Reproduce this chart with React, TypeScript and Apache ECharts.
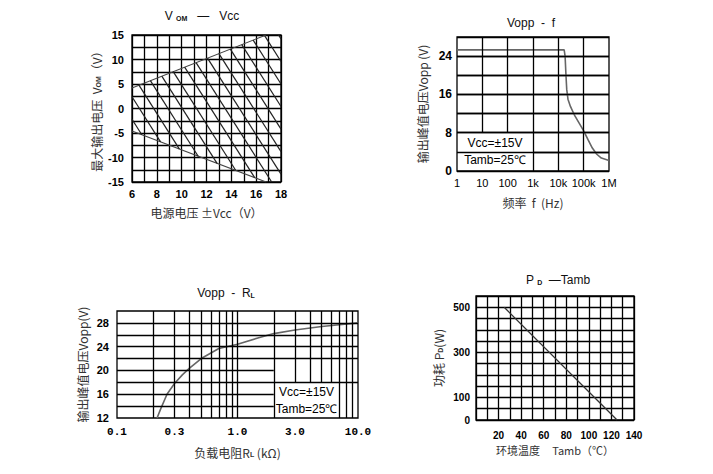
import React, { useEffect, useRef } from 'react';
import * as echarts from 'echarts';

// ---------- Chart 1: V_OM vs Vcc ----------
const vccTicks = [6, 8, 10, 12, 14, 16, 18];
const vomTicks = [-15, -10, -5, 0, 5, 10, 15];
const vomUpper = [[6, 4.2], [16.8, 15]];
const vomLower = [[6, -4.6], [16.8, -15]];
// hatch segments: [x1, y1, x2, y2]
const vomHatch = [
  [6, -2.2, 6.79, -5.36],
  [6, 2.4, 8.3, -6.82],
  [6.56, 4.76, 9.82, -8.28],
  [7.48, 5.68, 11.33, -9.74],
  [8.4, 6.6, 12.85, -11.2],
  [9.32, 7.52, 14.36, -12.66],
  [10.24, 8.44, 15.88, -14.11],
  [11.16, 9.36, 17.25, -15],
  [12.08, 10.28, 18, -13.4],
  [13.0, 11.2, 18, -8.8],
  [13.92, 12.12, 18, -4.2],
  [14.84, 13.04, 18, 0.4],
  [15.76, 13.96, 18, 5.0],
  [16.68, 14.88, 18, 9.6],
  [17.8, 15, 18, 14.2],
];

// ---------- Chart 2: Vopp vs f ----------
const freqTicks = [1, 10, 100, 1000, 10000, 100000, 1000000];
const freqTickLabels = ['1', '10', '100', '1k', '10k', '100k', '1M'];
const freqValues = [1, 10, 100, 1000, 10000, 17000, 18500, 20000, 21500, 24000, 30000, 45000, 70000, 100000, 150000, 220000, 330000, 500000, 1000000];
const freqVopp = [25.3, 25.3, 25.3, 25.3, 25.3, 25.3, 24, 20, 17, 15, 13.5, 11.5, 9.8, 8.4, 6.5, 4.8, 3.5, 2.7, 2.2];
const freqVoppTicks = [0, 8, 16, 24];

// ---------- Chart 3: Vopp vs RL ----------
const rlValues = [0.215, 0.23, 0.26, 0.3, 0.35, 0.4, 0.5, 0.7, 1.0, 1.5, 2.0, 3.0, 5.0, 7.0, 10.0];
const rlVopp = [12, 13.5, 16, 17.8, 19.3, 20.4, 22, 23.7, 24.4, 25.5, 26.2, 26.8, 27.4, 27.7, 28.0];
const rlTickValues = [0.1, 0.3, 1.0, 3.0, 10.0];
const rlTickLabels = ['0.1', '0.3', '1.0', '3.0', '10.0'];
const rlVoppTicks = [12, 16, 20, 24, 28];
// vertical grid lines [x, yFrom, yTo]
const rlVGrid = [
  [0.2, 12, 30], [0.3, 12, 30], [0.4, 12, 30], [0.5, 12, 30], [0.6, 12, 30],
  [0.7, 12, 30], [0.8, 12, 30], [0.9, 12, 30], [1, 12, 30], [2, 12, 30],
  [3, 18, 30], [4, 18, 30], [5, 18, 30], [6, 18, 30],
  [7, 12, 30], [8, 12, 30], [9, 12, 30],
];
// horizontal grid lines [y, xFrom, xTo]
const rlHGrid = [
  [14, 0.1, 2], [16, 0.1, 2], [18, 0.1, 10], [20, 0.1, 2],
  [22, 0.1, 10], [24, 0.1, 10], [26, 0.1, 10], [28, 0.1, 10],
];

// ---------- Chart 4: PD vs Tamb ----------
const tempTicks = [20, 40, 60, 80, 100, 120, 140];
const pdTicks = [0, 100, 300, 500];
const tempValues = [25, 125];
const pdValues = [500, 0];

const boxText = 'Vcc=±15V\nTamb=25℃';

const NUM = "'Liberation Sans', Arial, sans-serif";
const CJK = "'Noto Sans CJK SC', 'Liberation Sans', sans-serif";
const MONO = "'Liberation Mono', 'DejaVu Sans Mono', monospace";
const GRID = '#000';
const GW = 1.3;

const subRich = (size: number) => ({
  s: { fontSize: size, fontWeight: 'bold', fontFamily: NUM, verticalAlign: 'bottom', color: '#333' },
});

const nameStyle = (size = 12) => ({
  fontFamily: CJK,
  fontSize: size,
  color: '#333',
  rich: subRich(7),
});

const segLines = (segs: number[][]) =>
  segs.map((s) => [{ coord: [s[0], s[1]] }, { coord: [s[2], s[3]] }]);

const gridLineStyle = { color: GRID, width: GW };

const tickFont = (size: number, weight = 'bold') => ({ fontSize: size, color: '#000', fontFamily: NUM, fontWeight: weight });

function buildOption() {
  const splitOn = { show: true, lineStyle: gridLineStyle };
  const common = {
    axisLine: { show: false },
    axisTick: { show: false },
  };
  const gridBase = { show: true, borderColor: GRID, borderWidth: GW, backgroundColor: 'transparent' };

  return {
    animation: false,
    backgroundColor: '#fff',
    grid: [
      { ...gridBase, left: 132, top: 35, width: 149, height: 147 },
      { ...gridBase, left: 457, top: 37, width: 152, height: 134 },
      { ...gridBase, left: 117, top: 311, width: 241, height: 107 },
      { ...gridBase, left: 476, top: 296, width: 158, height: 124 },
    ],
    xAxis: [
      {
        ...common, type: 'value', gridIndex: 0, min: 6, max: 18, interval: 1,
        splitLine: splitOn,
        axisLabel: { margin: 6, ...tickFont(11), formatter: (v: number) => (vccTicks.includes(v) ? String(v) : '') },
        name: '电源电压 ±Vcc（V）', nameLocation: 'middle', nameGap: 24, nameTextStyle: nameStyle(12),
      },
      {
        ...common, type: 'log', logBase: 10, gridIndex: 1, min: 1, max: 1000000,
        splitLine: { show: false },
        axisLabel: {
          margin: 6, ...tickFont(11, 'normal'),
          formatter: (v: number) => {
            const i = freqTicks.findIndex((t) => Math.abs(Math.log10(t) - Math.log10(v)) < 1e-6);
            return i >= 0 ? freqTickLabels[i] : '';
          },
        },
        name: '频率  f  (Hz)', nameLocation: 'middle', nameGap: 25, nameTextStyle: nameStyle(12),
      },
      {
        ...common, type: 'log', logBase: 10, gridIndex: 2, min: 0.1, max: 10,
        splitLine: { show: false },
        axisLabel: { show: false },
        name: '负载电阻R{s|L} (kΩ)', nameLocation: 'middle', nameGap: 28, nameTextStyle: nameStyle(12),
      },
      {
        ...common, type: 'value', gridIndex: 3, min: 0, max: 140, interval: 10,
        splitLine: splitOn,
        axisLabel: { margin: 10, ...tickFont(10), formatter: (v: number) => (tempTicks.includes(v) ? String(v) : '') },
        name: '环境温度     Tamb（℃）', nameLocation: 'middle', nameGap: 24, nameTextStyle: nameStyle(11),
      },
    ],
    yAxis: [
      {
        ...common, type: 'value', gridIndex: 0, min: -15, max: 15, interval: 2.5,
        splitLine: splitOn,
        axisLabel: { margin: 8, ...tickFont(11), formatter: (v: number) => (vomTicks.includes(v) ? String(v) : '') },
        name: '最大输出电压  V{s|OM}（V）', nameLocation: 'middle', nameGap: 30, nameTextStyle: nameStyle(12),
      },
      {
        ...common, type: 'value', gridIndex: 1, min: 0, max: 28, interval: 4,
        splitLine: splitOn,
        axisLabel: { margin: 5, ...tickFont(12), formatter: (v: number) => (freqVoppTicks.includes(v) ? String(v) : '') },
        name: '输出峰值电压Vopp (V)', nameLocation: 'middle', nameGap: 29, nameTextStyle: nameStyle(12),
      },
      {
        ...common, type: 'value', gridIndex: 2, min: 12, max: 30, interval: 2,
        splitLine: { show: false },
        axisLabel: { margin: 8, ...tickFont(11), formatter: (v: number) => (rlVoppTicks.includes(v) ? String(v) : '') },
        name: '输出峰值电压Vopp(V)', nameLocation: 'middle', nameGap: 29, nameTextStyle: nameStyle(12),
      },
      {
        ...common, type: 'value', gridIndex: 3, min: 0, max: 550, interval: 50,
        splitLine: splitOn,
        axisLabel: { margin: 6, ...tickFont(10), formatter: (v: number) => (pdTicks.includes(v) ? String(v) : '') },
        name: '功耗 P{s|D}(W)', nameLocation: 'middle', nameGap: 32, nameTextStyle: nameStyle(12),
      },
    ],
    series: [
      // chart 1
      {
        type: 'line', xAxisIndex: 0, yAxisIndex: 0, data: vomUpper, symbol: 'none', silent: true,
        lineStyle: { color: '#444', width: 1.1 }, z: 3,
      },
      {
        type: 'line', xAxisIndex: 0, yAxisIndex: 0, data: vomLower, symbol: 'none', silent: true,
        lineStyle: { color: '#444', width: 1.1 }, z: 3,
        markLine: {
          silent: true, symbol: ['none', 'none'], label: { show: false },
          lineStyle: { type: 'solid', color: '#222', width: 1.2 },
          emphasis: { disabled: true },
          data: segLines(vomHatch),
        },
      },
      // chart 2
      {
        type: 'line', xAxisIndex: 1, yAxisIndex: 1, symbol: 'none', silent: true, z: 4,
        data: freqValues.map((f, i) => [f, freqVopp[i]]),
        lineStyle: { color: '#666', width: 1.6 },
      },
      {
        type: 'line', xAxisIndex: 1, yAxisIndex: 1, symbol: 'none', silent: true, z: 2, data: [],
        markLine: {
          silent: true, symbol: ['none', 'none'], label: { show: false },
          lineStyle: { type: 'solid', color: GRID, width: GW },
          emphasis: { disabled: true },
          data: [
            ...freqTicks.slice(1, 3).map((f) => [{ coord: [f, 8] }, { coord: [f, 28] }]),
            ...freqTicks.slice(3, 6).map((f) => [{ coord: [f, 0] }, { coord: [f, 28] }]),
            [{ coord: [1000, 4] }, { coord: [1000000, 4] }],
            ...[8, 12, 16, 20, 24].map((y) => [{ coord: [1, y] }, { coord: [1000000, y] }]),
          ],
        },
        markArea: {
          silent: true,
          itemStyle: { color: 'transparent' },
          label: { show: true, position: 'inside', formatter: boxText, fontSize: 12, lineHeight: 17, color: '#000', fontFamily: NUM },
          data: [[{ coord: [1, 0] }, { coord: [1000, 8] }]],
        },
      },
      // chart 3
      {
        type: 'line', xAxisIndex: 2, yAxisIndex: 2, symbol: 'none', silent: true, z: 2, data: [],
        markLine: {
          silent: true, symbol: ['none', 'none'], label: { show: false },
          lineStyle: { type: 'solid', color: GRID, width: GW },
          emphasis: { disabled: true },
          data: [
            ...rlVGrid.map((g) => [{ coord: [g[0], g[1]] }, { coord: [g[0], g[2]] }]),
            ...rlHGrid.map((g) => [{ coord: [g[1], g[0]] }, { coord: [g[2], g[0]] }]),
          ],
        },
        markArea: {
          silent: true,
          itemStyle: { color: 'transparent' },
          label: { show: true, position: 'inside', formatter: boxText, fontSize: 12, lineHeight: 17, color: '#000', fontFamily: NUM },
          data: [[{ coord: [2, 12] }, { coord: [7, 18] }]],
        },
      },
      {
        type: 'line', xAxisIndex: 2, yAxisIndex: 2, symbol: 'none', silent: true, z: 4,
        data: rlValues.map((r, i) => [r, rlVopp[i]]),
        lineStyle: { color: '#666', width: 1.6 },
      },
      // chart 4
      {
        type: 'line', xAxisIndex: 3, yAxisIndex: 3, symbol: 'none', silent: true, z: 4,
        data: tempValues.map((t, i) => [t, pdValues[i]]),
        lineStyle: { color: '#333', width: 1.3 },
      },
    ],
  };
}

function titleText(x: number, y: number, text: string) {
  return {
    type: 'text', x, y, silent: true, z: 10,
    style: {
      text, align: 'center', verticalAlign: 'middle',
      fontSize: 12, fontFamily: NUM, fill: '#111',
      rich: { s: { fontSize: 7, fontWeight: 'bold', fontFamily: NUM, verticalAlign: 'bottom', fill: '#111' } },
    },
  };
}

export default function App() {
  const ref = useRef<HTMLDivElement>(null);
  useEffect(() => {
    if (!ref.current) return;
    const chart = echarts.init(ref.current, null, { renderer: 'svg' });
    chart.setOption(buildOption() as any);
    const rlLabels = rlTickValues.map((v, i) => {
      const p = chart.convertToPixel({ gridIndex: 2 } as any, [v, 12]) as number[];
      return {
        type: 'text', x: p[0], y: p[1] + 14, silent: true,
        style: { text: rlTickLabels[i], align: 'center', verticalAlign: 'middle', fontSize: 11, fontFamily: MONO, fontWeight: 'bold', fill: '#000' },
      };
    });
    chart.setOption({
      graphic: [
        titleText(202, 16, 'V {s|OM}   —   Vcc'),
        titleText(531, 23, 'Vopp  -  f'),
        titleText(226, 293, 'Vopp  -  R{s|L}'),
        titleText(558, 280, 'P {s|D}  —Tamb'),
        ...rlLabels,
      ],
    } as any);
    return () => chart.dispose();
  }, []);
  return (
    <div
      ref={ref}
      style={{ position: 'fixed', left: 0, top: 0, width: 713, height: 474, background: '#fff' }}
    />
  );
}
